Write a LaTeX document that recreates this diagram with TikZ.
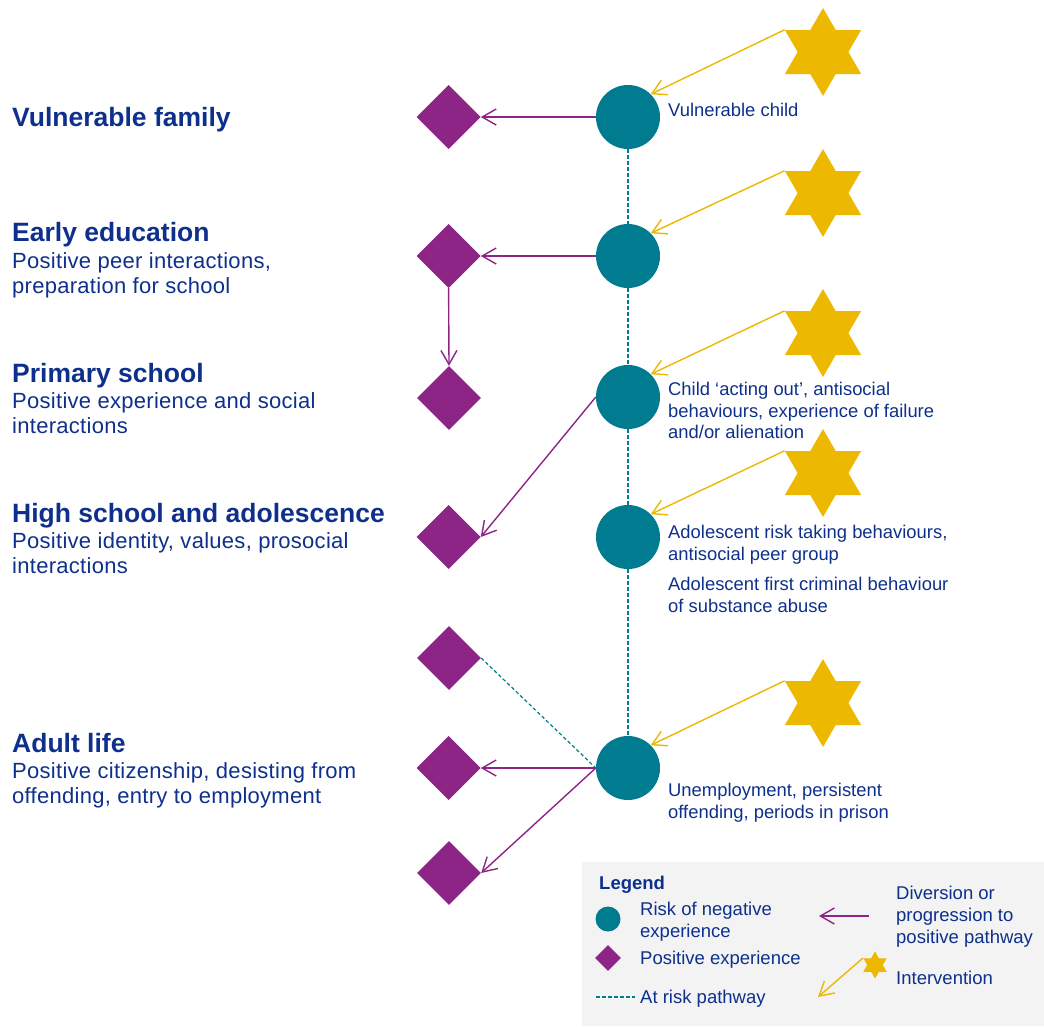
\documentclass[tikz,border=0pt]{standalone}
\usepackage{fontspec}
\setmainfont{Liberation Sans}
\usetikzlibrary{positioning}
\usetikzlibrary{arrows.meta}
\usetikzlibrary{shapes.geometric}
\definecolor{figTeal}{RGB}{0,123,143}
\definecolor{figPurple}{RGB}{141,37,135}
\definecolor{figGold}{RGB}{236,184,0}
\definecolor{figNavy}{RGB}{14,48,140}
\definecolor{figLegend}{RGB}{243,243,243}
\tikzset{
  riskdot/.style={
    circle, fill=figTeal, draw=none, minimum size=64pt, inner sep=0pt
  },
  posdiam/.style={
    diamond, aspect=1, fill=figPurple, draw=none, minimum size=64pt, inner sep=0pt
  },
  intstar/.style={
    star, star points=6, star point ratio=1.732, fill=figGold, draw=none,
    minimum size=88pt, inner sep=0pt
  },
  arrowp/.style={-{Straight Barb[length=14pt, width=16pt]}, line width=1.4pt, draw=figPurple},
  arrowi/.style={-{Straight Barb[length=14pt, width=16pt]}, line width=1.4pt, draw=figGold},
  atrisk/.style={line width=1.2pt, draw=figTeal, dash pattern=on 3.5pt off 2.5pt},
  stage/.style={
    anchor=base west, inner sep=0pt, text=figNavy,
    font=\fontsize{26.5}{30}\selectfont\bfseries
  },
  stagetxt/.style={
    anchor=north west, inner sep=0pt, align=left, text=figNavy,
    font=\fontsize{22}{25.5}\selectfont\addfontfeature{LetterSpace=1.3}
  },
  sidetxt/.style={
    anchor=north west, inner sep=0pt, align=left, text=figNavy,
    font=\fontsize{18.4}{21.7}\selectfont
  },
  legtxt/.style={
    anchor=north west, inner sep=0pt, align=left, text=figNavy,
    font=\fontsize{18.5}{22}\selectfont
  }
}

\begin{document}
\begin{tikzpicture}[x=1pt, y=-1pt]
  \useasboundingbox (0,0) rectangle (1044,1026);

  % at risk pathway
  \node[riskdot] (child) at (628,117) {};
  \node[riskdot] (early) at (628,256) {};
  \node[riskdot] (primary) at (628,397) {};
  \node[riskdot] (teen) at (628,537) {};
  \node[riskdot] (adult) at (628,768) {};

  \node[posdiam, left=115pt of child] (famPos) {};
  \node[posdiam, left=115pt of early] (earlyPos) {};
  \node[posdiam] (primPos) at (449,398) {};
  \node[posdiam, left=115pt of teen] (teenPos) {};
  \node[posdiam] (adultPosA) at (449,658) {};
  \node[posdiam, left=115pt of adult] (adultPosB) {};
  \node[posdiam] (adultPosC) at (449,873) {};

  \node[intstar] (starA) at (823,52) {};
  \node[intstar] (starB) at (823,193) {};
  \node[intstar] (starC) at (823,333) {};
  \node[intstar] (starD) at (823,473) {};
  \node[intstar] (starE) at (823,703) {};

  \draw[atrisk] (child.south) -- (early.north);
  \draw[atrisk] (early.south) -- (primary.north);
  \draw[atrisk] (primary.south) -- (teen.north);
  \draw[atrisk] (teen.south) -- (adult.north);
  \draw[atrisk] (adultPosA.east) -- (adult.west);

  \draw[arrowp] (child.west) -- (famPos.east);
  \draw[arrowp] (early.west) -- (earlyPos.east);
  \draw[arrowp] (earlyPos.south) -- (primPos.north);
  \draw[arrowp] (primary.west) -- (teenPos.east);
  \draw[arrowp] (adult.west) -- (adultPosB.east);
  \draw[arrowp] (adult.west) -- (adultPosC.east);

  \draw[arrowi] (starA.150) -- (child.45);
  \draw[arrowi] (starB.150) -- (early.45);
  \draw[arrowi] (starC.150) -- (primary.45);
  \draw[arrowi] (starD.150) -- (teen.45);
  \draw[arrowi] (starE.150) -- (adult.45);

  % stages
  \node[stage] (tFam) at (12,126) {Vulnerable family};
  \node[stage] (tEarly) at (12,241) {Early education};
  \node[stagetxt] (dEarly) at (12,252.2) {Positive peer interactions,\\preparation for school};
  \node[stage] (tPrim) at (12,382) {Primary school};
  \node[stagetxt] (dPrim) at (12,392.2) {Positive experience and social\\interactions};
  \node[stage] (tTeen) at (12,522) {High school and adolescence};
  \node[stagetxt] (dTeen) at (12,532.2) {Positive identity, values, prosocial\\interactions};
  \node[stage] (tAdult) at (12,752) {Adult life};
  \node[stagetxt] (dAdult) at (12,762.2) {Positive citizenship, desisting from\\offending, entry to employment};

  \node[sidetxt, anchor=base west] (sChild) at (668,116) {Vulnerable child};
  \node[sidetxt] (sPrim) at (668,381.8) {Child ‘acting out’, antisocial\\behaviours, experience of failure\\and/or alienation};
  \node[sidetxt] (sTeenA) at (668,524.8) {Adolescent risk taking behaviours,\\antisocial peer group};
  \node[sidetxt] (sTeenB) at (668,576.8) {Adolescent first criminal behaviour\\of substance abuse};
  \node[sidetxt] (sAdult) at (668,782.8) {Unemployment, persistent\\offending, periods in prison};

  % legend
  \node[fill=figLegend, draw=none, inner sep=0pt, anchor=north west,
        minimum width=462pt, minimum height=164pt] (legBox) at (582,862) {};
  \node[legtxt, anchor=base west, font=\fontsize{18.5}{22}\selectfont\bfseries] (legTitle) at (599,889) {Legend};
  \node[riskdot, minimum size=25pt] (legDot) at (608,919) {};
  \node[legtxt] (legDotTxt) at (640,901.7) {Risk of negative\\experience};
  \node[posdiam, minimum size=26pt] (legDiam) at (608,958) {};
  \node[legtxt, anchor=base west] (legDiamTxt) at (640,964) {Positive experience};
  \coordinate (legDashA) at (596,997);
  \coordinate (legDashB) at (635,997);
  \draw[atrisk] (legDashA) -- (legDashB);
  \node[legtxt, anchor=base west] (legDashTxt) at (640,1003) {At risk pathway};
  \coordinate (legArrA) at (869,916);
  \coordinate (legArrB) at (819,916);
  \draw[arrowp] (legArrA) -- (legArrB);
  \node[legtxt] (legArrTxt) at (896,885.7) {Diversion or\\progression to\\positive pathway};
  \node[intstar, minimum size=27pt] (legStar) at (875,965) {};
  \coordinate (legStarEnd) at (818,997);
  \draw[arrowi] (legStar.150) -- (legStarEnd);
  \node[legtxt, anchor=base west] (legStarTxt) at (896,984) {Intervention};
\end{tikzpicture}
\end{document}
